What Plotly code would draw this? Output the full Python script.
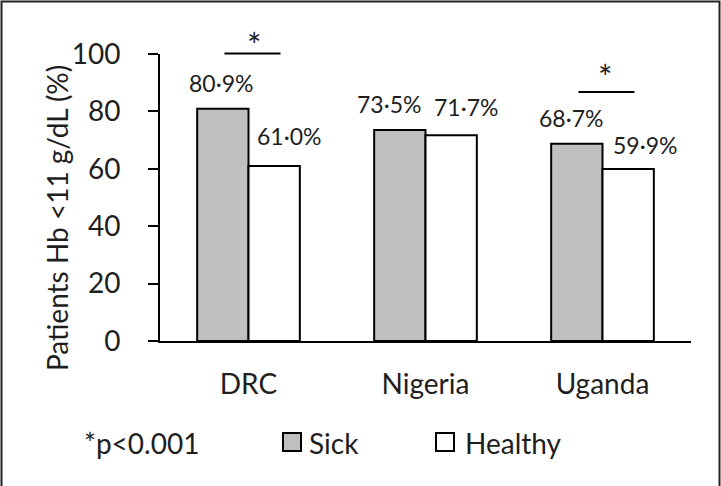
import plotly.graph_objects as go

# ---- data ----
categories = ["DRC", "Nigeria", "Uganda"]
sick = [80.9, 73.5, 68.7]
healthy = [61.0, 71.7, 59.9]
sick_labels = ["80·9%", "73·5%", "68·7%"]
healthy_labels = ["61·0%", "71·7%", "59·9%"]
significant = ["DRC", "Uganda"]
y_ticks = [0, 20, 40, 60, 80, 100]

# ---- styling / layout constants ----
FONT = "Lato"
TXT = "#1e1e1e"
W_FIG, H_FIG = 721, 486
L, R, T, B = 160, 691, 54, 341
PW, PH = R - L, B - T

def px2x(px):
    return (px - L) / PW

def py2y(py):
    return (B - py) / PH

# label offsets (pixels: dx right, dy above bar top)
sick_off = [(-1.5, 26), (-11, 26.5), (-6, 26)]
healthy_off = [(15, 30), (14.5, 28), (17, 24)]
# significance bar styling: (y pixel of line, y pixel of star, star dx)
sig_style = {"DRC": (53.5, 44, 5), "Uganda": (92, 76, 2)}

fig = go.Figure()
fig.add_trace(go.Bar(x=categories, y=sick, name="Sick",
                     marker=dict(color="#c0c0c0", line=dict(color="black", width=2))))
fig.add_trace(go.Bar(x=categories, y=healthy, name="Healthy",
                     marker=dict(color="white", line=dict(color="black", width=2))))

annotations = []
offset = 0.145
for i, c in enumerate(categories):
    annotations.append(dict(x=i - offset, y=sick[i], xref="x", yref="y", text=sick_labels[i],
                            showarrow=False, xanchor="center", yanchor="middle",
                            xshift=sick_off[i][0], yshift=sick_off[i][1],
                            font=dict(family=FONT, size=23, color=TXT)))
    annotations.append(dict(x=i + offset, y=healthy[i], xref="x", yref="y", text=healthy_labels[i],
                            showarrow=False, xanchor="center", yanchor="middle",
                            xshift=healthy_off[i][0], yshift=healthy_off[i][1],
                            font=dict(family=FONT, size=23, color=TXT)))

shapes = []
for c in significant:
    i = categories.index(c)
    cx = (i + 0.5) / len(categories)
    ly, sy, sdx = sig_style[c]
    half = 28 / PW
    shift = 4 / PW
    shapes.append(dict(type="line", xref="paper", yref="paper",
                       x0=cx + shift - half, x1=cx + shift + half, y0=py2y(ly), y1=py2y(ly),
                       line=dict(color="black", width=2)))
    annotations.append(dict(x=cx + sdx / PW, y=py2y(sy), xref="paper", yref="paper", text="*",
                            showarrow=False, xanchor="center", yanchor="middle",
                            font=dict(family=FONT, size=34, color=TXT)))

# y-axis title
annotations.append(dict(x=px2x(57), y=py2y(218), xref="paper", yref="paper",
                        text="Patients Hb <11 g/dL (%)", textangle=-90, showarrow=False,
                        xanchor="center", yanchor="middle",
                        font=dict(family=FONT, size=28, color=TXT)))

# legend (manual)
annotations.append(dict(x=px2x(82), y=py2y(443), xref="paper", yref="paper", text="*p<0.001",
                        showarrow=False, xanchor="left", yanchor="middle",
                        font=dict(family=FONT, size=28, color=TXT)))
legend_items = [("Sick", "#c0c0c0", 283, 307), ("Healthy", "white", 436, 463)]
for name, col, bx, tx in legend_items:
    shapes.append(dict(type="rect", xref="paper", yref="paper",
                       x0=px2x(bx), x1=px2x(bx + 18), y0=py2y(451), y1=py2y(433),
                       fillcolor=col, line=dict(color="black", width=2)))
    annotations.append(dict(x=px2x(tx), y=py2y(443), xref="paper", yref="paper", text=name,
                            showarrow=False, xanchor="left", yanchor="middle",
                            font=dict(family=FONT, size=28, color=TXT)))

# outer border (left, top, right)
shapes.append(dict(type="path", xref="paper", yref="paper",
                   path=f"M {px2x(1.5)},{py2y(486)} L {px2x(1.5)},{py2y(1.5)} "
                        f"L {px2x(719.5)},{py2y(1.5)} L {px2x(719.5)},{py2y(486)}",
                   line=dict(color="#222", width=2)))

fig.update_layout(
    width=W_FIG, height=H_FIG, autosize=False,
    margin=dict(l=L, r=W_FIG - R, t=T, b=H_FIG - B, pad=0),
    paper_bgcolor="white", plot_bgcolor="white",
    barmode="group", bargap=0.42, bargroupgap=0,
    showlegend=False,
    font=dict(family=FONT, size=27, color=TXT),
    annotations=annotations, shapes=shapes,
)
fig.update_xaxes(type="category", range=[-0.5, 2.5], showline=True, linecolor="black", linewidth=2,
                 ticks="", showgrid=False, zeroline=False, ticklabelstandoff=17,
                 tickfont=dict(family=FONT, size=28, color=TXT))
fig.update_yaxes(range=[0, 100], tickvals=y_ticks, showline=True, linecolor="black", linewidth=2,
                 ticks="outside", ticklen=10, tickwidth=2, tickcolor="black",
                 showgrid=False, zeroline=False, ticklabelstandoff=22,
                 tickfont=dict(family=FONT, size=28, color=TXT))

fig.write_html("out.html", config={"displayModeBar": False},
               post_script="document.body.style.margin='0';document.body.style.overflow='hidden';")
